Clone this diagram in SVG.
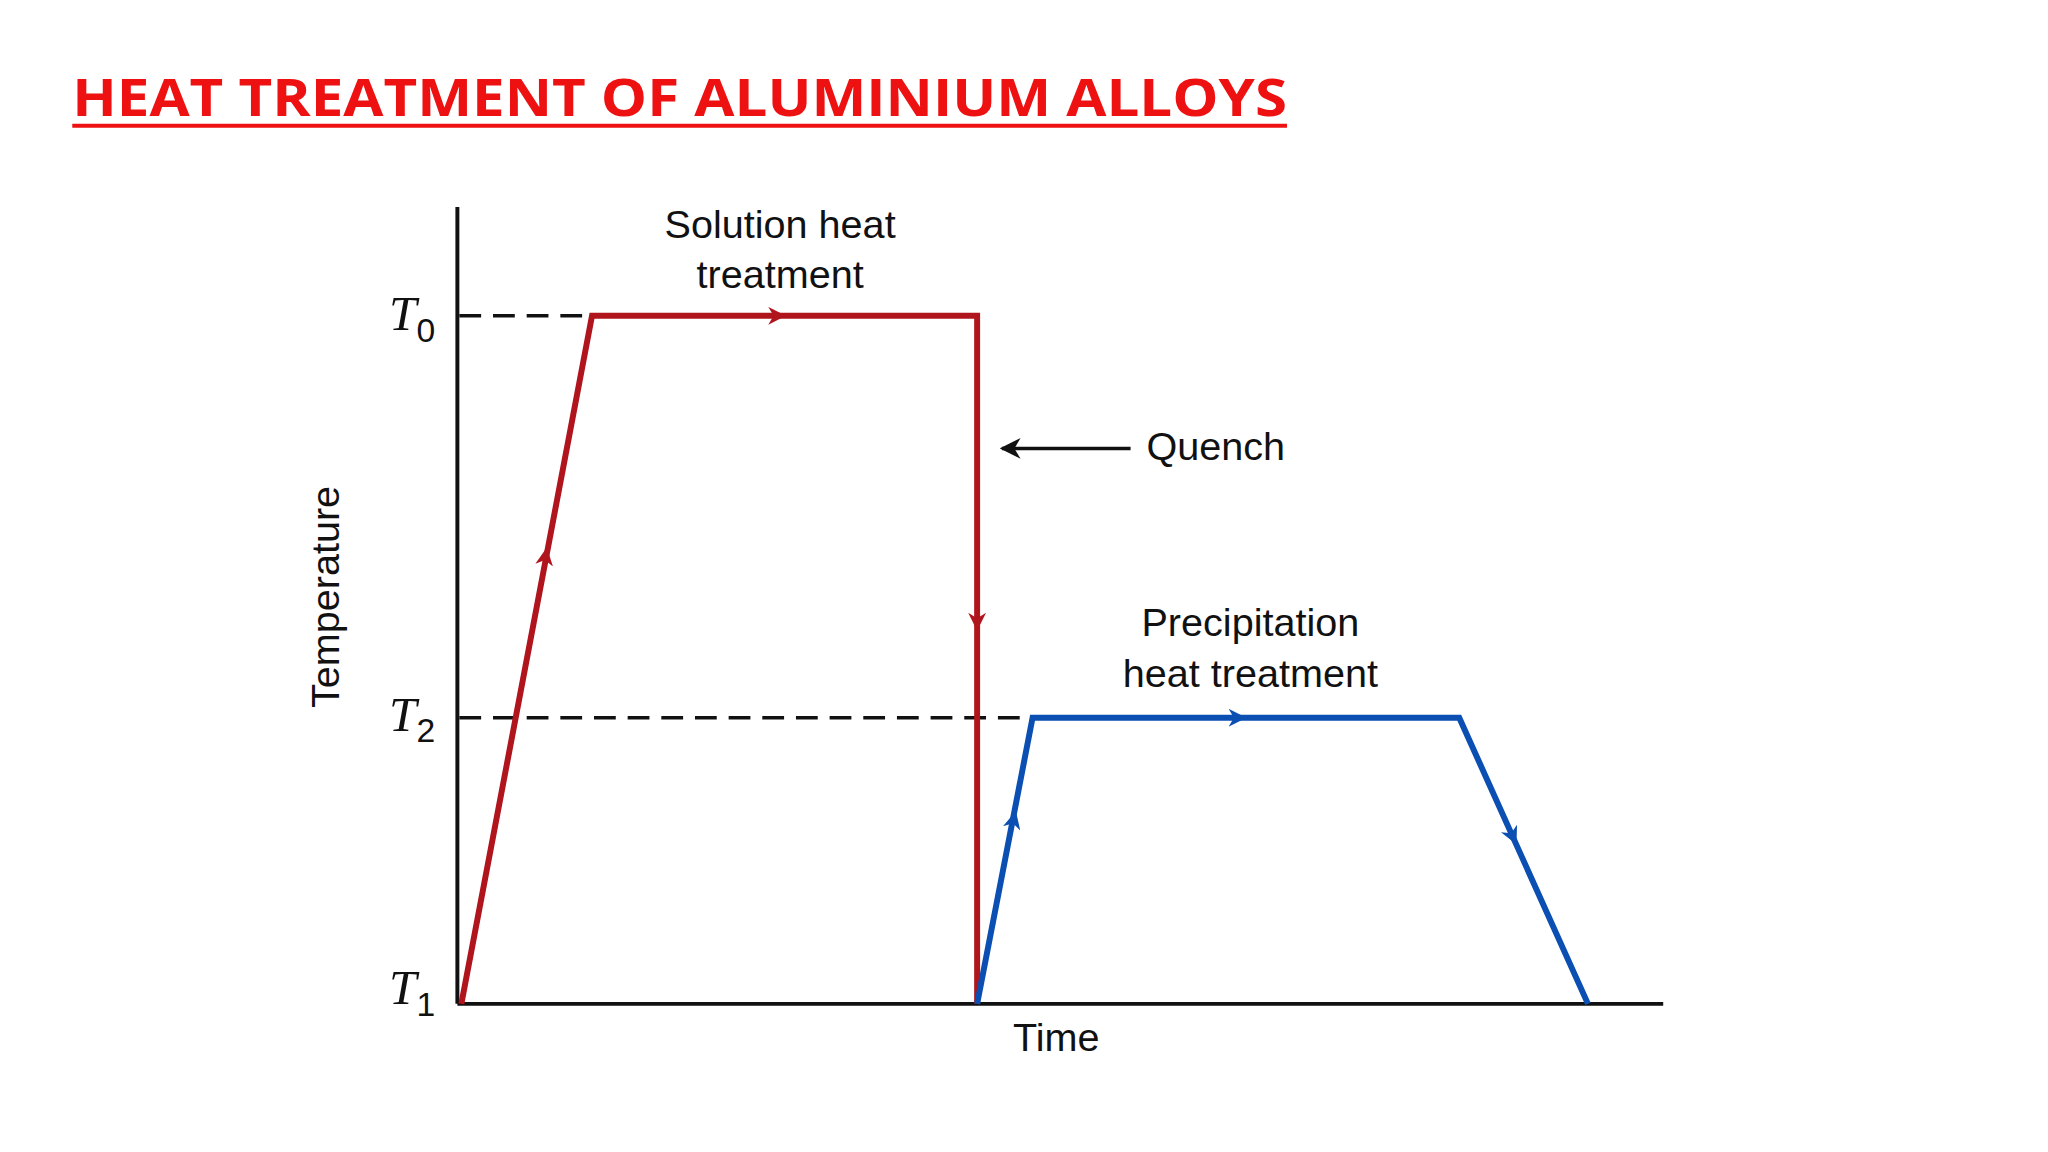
<svg xmlns="http://www.w3.org/2000/svg" width="2048" height="1152" viewBox="0 0 2048 1152">
<style>
.lbl{font-family:"Liberation Sans",Arial,sans-serif;font-size:40px;fill:#111}
.t{font-family:"Liberation Serif","Times New Roman",serif;font-style:italic;font-size:50px;fill:#111}
.sub{font-family:"Liberation Sans",Arial,sans-serif;font-style:normal;font-size:34px}
.red{stroke:#b0141c;stroke-width:6;fill:none;stroke-linejoin:miter}
.blue{stroke:#0b4fb3;stroke-width:6;fill:none}
</style>
<defs>
<marker id="ar" viewBox="0 0 10 10" refX="5" refY="5" markerWidth="6" markerHeight="6" orient="auto"><path d="M0,0 L10,5 L0,10 L3,5 z" fill="#b0141c"/></marker>
<marker id="ab" viewBox="0 0 10 10" refX="5" refY="5" markerWidth="6" markerHeight="6" orient="auto"><path d="M0,0 L10,5 L0,10 L3,5 z" fill="#0b4fb3"/></marker>
<marker id="ak" viewBox="0 0 10 10" refX="9" refY="5" markerWidth="6" markerHeight="6" orient="auto"><path d="M0,0 L10,5 L0,10 L3,5 z" fill="#111"/></marker>
</defs>
<rect width="2048" height="1152" fill="#fff"/>
<g transform="scale(0.99)">
<g id="title">
<text x="73" y="117" font-family="'Open Sans',sans-serif" font-weight="bold" font-size="52" fill="#ee1111" textLength="1227" lengthAdjust="spacingAndGlyphs">HEAT TREATMENT OF ALUMINIUM ALLOYS</text>
<line x1="73" y1="127" x2="1300" y2="127" stroke="#ee1111" stroke-width="4"/>
</g>
<g id="axes" stroke="#111" stroke-width="4">
<line x1="462" y1="209" x2="462" y2="1014"/>
<line x1="462" y1="1014" x2="1680" y2="1014"/>
</g>
<g id="dashes" stroke="#111" stroke-width="3.5" stroke-dasharray="22,12">
<line x1="464" y1="319" x2="598" y2="319"/>
<line x1="464" y1="725" x2="1043" y2="725"/>
</g>
<g id="connectors">
<path class="red" d="M466,1014 L598,319 L987,319 L987,1014"/>
<path class="blue" d="M987,1014 L1043,725 L1474,725 L1604,1014"/>
<line x1="549" y1="575" x2="551" y2="562" stroke="#b0141c" stroke-width="3" marker-end="url(#ar)"/>
<line x1="770" y1="319" x2="785" y2="319" stroke="#b0141c" stroke-width="3" marker-end="url(#ar)"/>
<line x1="987" y1="610" x2="987" y2="628" stroke="#b0141c" stroke-width="3" marker-end="url(#ar)"/>
<line x1="1021" y1="840" x2="1024" y2="828" stroke="#0b4fb3" stroke-width="3" marker-end="url(#ab)"/>
<line x1="1235" y1="725" x2="1250" y2="725" stroke="#0b4fb3" stroke-width="3" marker-end="url(#ab)"/>
<line x1="1521" y1="830" x2="1528" y2="845" stroke="#0b4fb3" stroke-width="3" marker-end="url(#ab)"/>
<line x1="1142" y1="453" x2="1012" y2="453" stroke="#111" stroke-width="3.5" marker-end="url(#ak)"/>
</g>
<g id="labels">
<text class="lbl" x="788" y="240" text-anchor="middle">Solution heat</text>
<text class="lbl" x="788" y="291" text-anchor="middle">treatment</text>
<text class="lbl" x="1158" y="465">Quench</text>
<text class="lbl" x="1263" y="642" text-anchor="middle">Precipitation</text>
<text class="lbl" x="1263" y="694" text-anchor="middle">heat treatment</text>
<text class="lbl" x="1067" y="1062" text-anchor="middle">Time</text>
<text class="lbl" x="0" y="0" text-anchor="middle" font-size="38" transform="translate(342,603) rotate(-90)">Temperature</text>
<text class="t" x="393" y="333">T<tspan class="sub" dy="12">0</tspan></text>
<text class="t" x="393" y="738">T<tspan class="sub" dy="12">2</tspan></text>
<text class="t" x="393" y="1014">T<tspan class="sub" dy="12">1</tspan></text>
</g>
</g>
</svg>
